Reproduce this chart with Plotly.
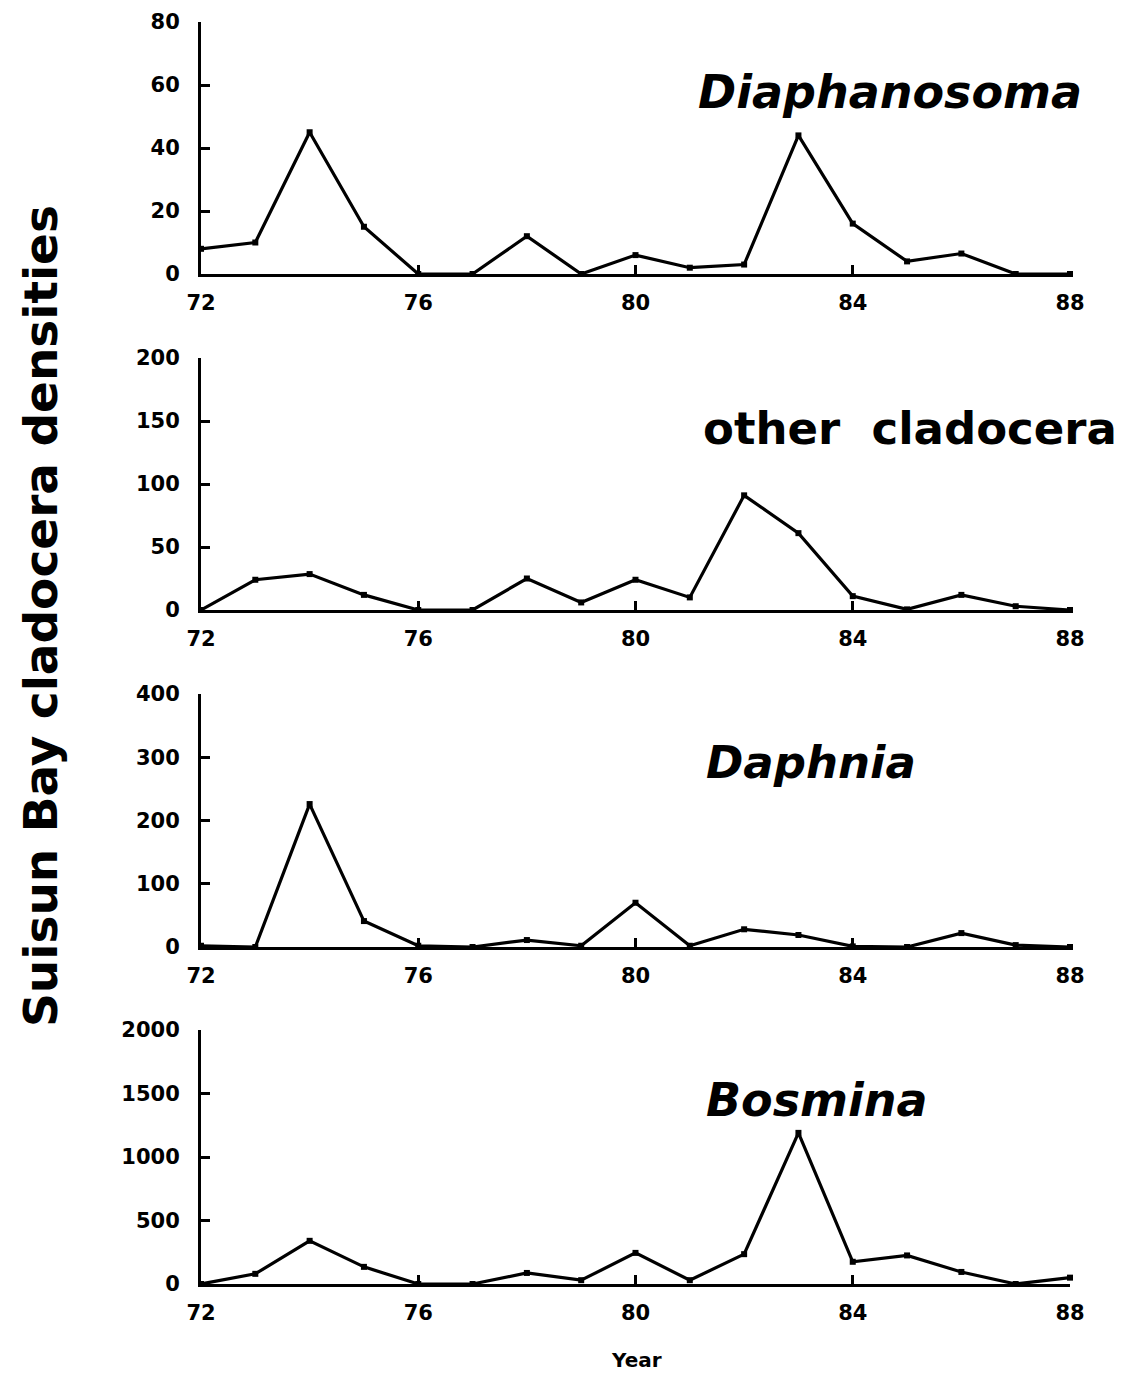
import plotly.graph_objects as go

years = list(range(72, 89))
diaphanosoma = [8, 10, 45, 15, 0, 0, 12, 0, 6, 2, 3, 44, 16, 4, 6.5, 0, 0]
other_cladocera = [0, 24, 28.5, 12, 0, 0, 25, 6, 24, 10, 91, 61, 11, 0.5, 12, 3, 0]
daphnia = [2, 0, 226, 41, 2, 0, 11, 2, 70, 2, 28, 19, 1, 0, 22, 3, 0]
bosmina = [0, 80, 340, 135, 0, 0, 87, 30, 245, 30, 235, 1190, 175, 225, 95, 0, 50]

series = [diaphanosoma, other_cladocera, daphnia, bosmina]
y_max = [80, 200, 400, 2000]
y_step = [20, 50, 100, 500]
x_ticks = [72, 76, 80, 84, 88]
panel_labels = ["Diaphanosoma", "other  cladocera", "Daphnia", "Bosmina"]
y_title = "Suisun Bay cladocera densities"
x_title = "Year"

W, H = 1126, 1374
OFF = 8  # page body offset
# target screen pixels
SL, SR, ST, SB = 201, 1070, 18, 1284
L, T = SL - OFF, ST - OFF
R = W - (SR - OFF)
B = H - (SB - OFF)
plot_h = H - T - B
plot_w = W - L - R
def py(pix):
    return ((SB) - pix) / plot_h
def px(pix):
    return (pix - SL) / plot_w

domains = [(py(274), py(22)), (py(610), py(358)), (py(947), py(694)), (0.0, py(1030))]

fig = go.Figure()
FONT = "DejaVu Sans"
for i, (vals, dom) in enumerate(zip(series, domains)):
    n = "" if i == 0 else str(i + 1)
    fig.add_trace(go.Scatter(
        x=years, y=vals, mode="lines+markers",
        line=dict(color="black", width=3.2),
        marker=dict(symbol="square", size=6, color="black"),
        cliponaxis=False, showlegend=False,
        xaxis="x" + n, yaxis="y" + n))
    common = dict(showline=True, linecolor="black", linewidth=3, ticks="inside",
                  ticklen=9, tickwidth=3, tickcolor="black", showgrid=False, zeroline=False,
                  automargin=False, ticklabeloverflow="allow",
                  tickfont=dict(family=FONT, size=21, color="black", weight="bold"))
    fig.layout["xaxis" + n] = dict(common, domain=[0, 1], anchor="y" + n, range=[72, 88],
                                   tickvals=x_ticks, ticklabelstandoff=8)
    fig.layout["yaxis" + n] = dict(common, domain=list(dom), anchor="x" + n,
                                   range=[0, y_max[i]], tickmode="linear", tick0=0,
                                   dtick=y_step[i], ticklabelstandoff=14)

ann = []
ann.append(dict(text=panel_labels[0], x=px(1084), y=py(92), xanchor="right", yanchor="middle",
                font=dict(family=FONT, size=46, style="italic", weight="bold", color="black")))
ann.append(dict(text=panel_labels[1], x=px(1119), y=py(428), xanchor="right", yanchor="middle",
                font=dict(family=FONT, size=45, weight="bold", color="black")))
ann.append(dict(text=panel_labels[2], x=px(704), y=py(762), xanchor="left", yanchor="middle",
                font=dict(family=FONT, size=45, style="italic", weight="bold", color="black")))
ann.append(dict(text=panel_labels[3], x=px(704), y=py(1100), xanchor="left", yanchor="middle",
                font=dict(family=FONT, size=46, style="italic", weight="bold", color="black")))
ann.append(dict(text=y_title, x=px(40), y=py(616), xanchor="center", yanchor="middle",
                textangle=-90, font=dict(family=FONT, size=47, weight="bold", color="black")))
ann.append(dict(text=x_title, x=px(636), y=py(1360), xanchor="center", yanchor="middle",
                font=dict(family=FONT, size=20, weight="bold", color="black")))
for a in ann:
    a.update(xref="paper", yref="paper", showarrow=False)

fig.update_layout(width=W, height=H, margin=dict(l=L, r=R, t=T, b=B),
                  paper_bgcolor="white", plot_bgcolor="white", annotations=ann)
fig.write_html("out.html")
